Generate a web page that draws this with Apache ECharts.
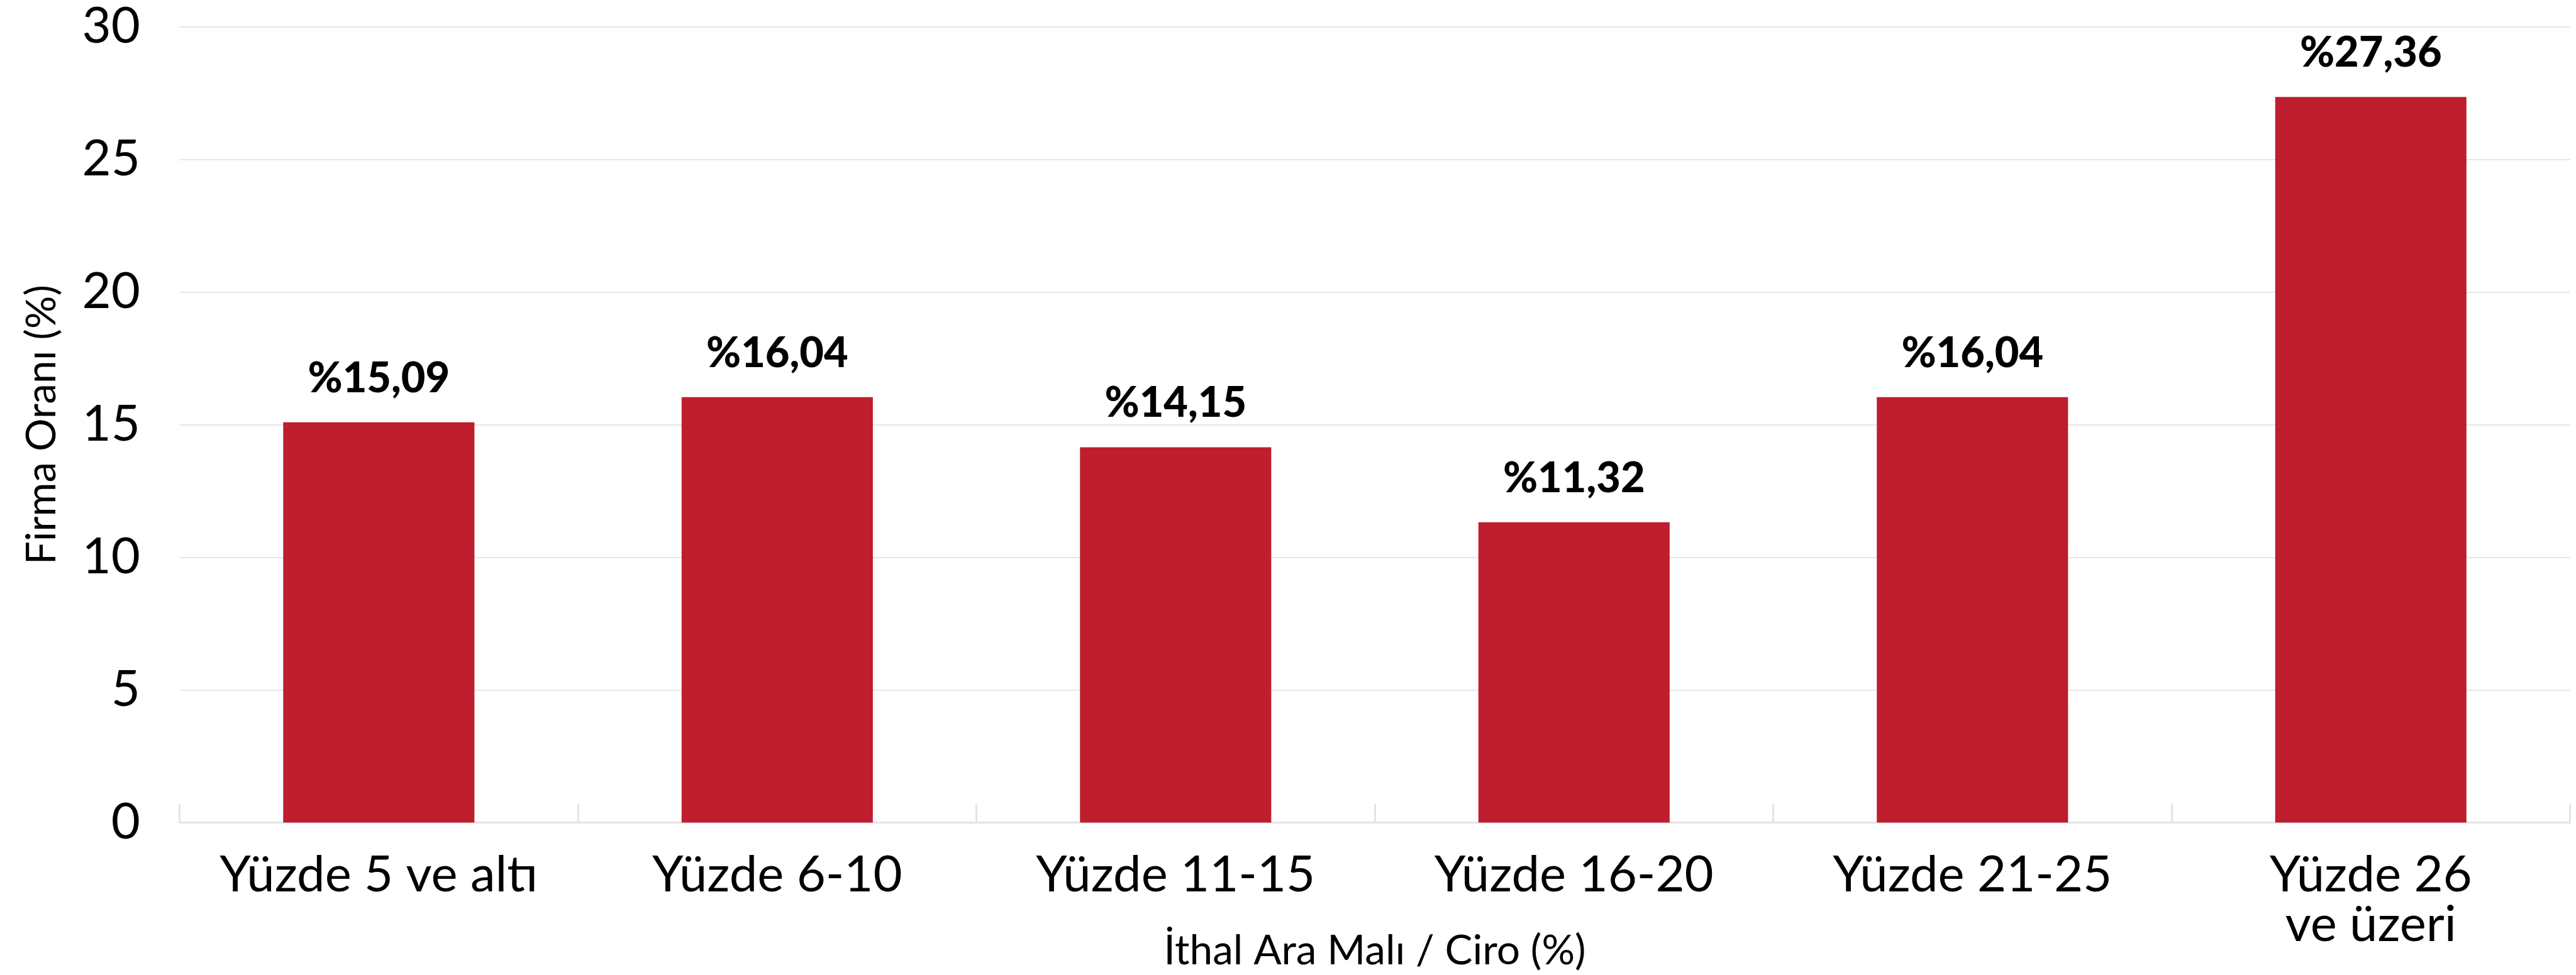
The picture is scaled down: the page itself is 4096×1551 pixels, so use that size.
<!DOCTYPE html>
<html>
<head>
<meta charset="utf-8">
<script src="https://cdn.jsdelivr.net/npm/echarts@6/dist/echarts.min.js"></script>
<style>
  html, body { margin: 0; padding: 0; background: #fff; }
  #chart { width: 4096px; height: 1551px; }
</style>
</head>
<body>
<div id="chart"></div>
<script>
// category labels (x axis)
const categories = [
  'Yüzde 5 ve altı',
  'Yüzde 6-10',
  'Yüzde 11-15',
  'Yüzde 16-20',
  'Yüzde 21-25',
  'Yüzde 26\nve üzeri'
];
// share of firms, %
const firmShare = [15.09, 16.04, 14.15, 11.32, 16.04, 27.36];
const yTicks = [0, 5, 10, 15, 20, 25, 30];

const chart = echarts.init(document.getElementById('chart'));
const font = 'Lato';

chart.setOption({
  animation: false,
  backgroundColor: '#fff',
  grid: {
    left: 285.6,
    right: 9.5,
    top: 42.8,
    bottom: 242.6,
    containLabel: false
  },
  xAxis: {
    type: 'category',
    data: categories,
    name: 'İthal Ara Malı / Ciro (%)',
    nameLocation: 'middle',
    nameGap: 171,
    nameMoveOverlap: false,
    nameTextStyle: { fontFamily: font, fontSize: 65.7, color: '#000' },
    axisLine: { lineStyle: { color: '#e3e4e6', width: 3 } },
    axisTick: { show: true, inside: true, length: 30, lineStyle: { color: '#e3e4e6', width: 3 } },
    axisLabel: {
      interval: 0,
      margin: 44,
      fontFamily: font,
      fontSize: 79.6,
      lineHeight: 79,
      color: '#000'
    }
  },
  yAxis: {
    type: 'value',
    min: yTicks[0],
    max: yTicks[yTicks.length - 1],
    interval: 5,
    name: 'Firma Oranı (%)',
    nameLocation: 'middle',
    nameGap: 186,
    nameTextStyle: { fontFamily: font, fontSize: 65.7, color: '#000' },
    axisLine: { show: false },
    axisTick: { show: false },
    axisLabel: { margin: 62.7, fontFamily: font, fontSize: 79.6, color: '#000' },
    splitLine: { lineStyle: { color: '#e6e6e6', width: 2 } }
  },
  series: [{
    type: 'bar',
    data: firmShare,
    barWidth: '48%',
    itemStyle: { color: '#be1e2d' },
    label: {
      show: true,
      position: 'top',
      distance: 36,
      fontFamily: font,
      fontWeight: 900,
      fontSize: 66.7,
      color: '#000',
      formatter: p => '%' + p.value.toFixed(2).replace('.', ',')
    }
  }]
});
</script>
</body>
</html>
